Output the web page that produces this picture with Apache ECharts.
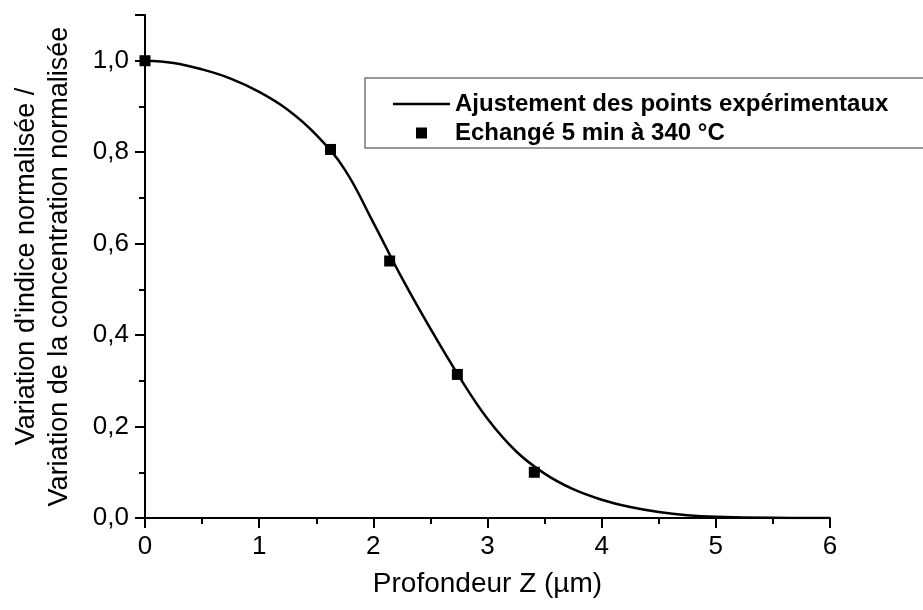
<!DOCTYPE html>
<html lang="fr">

<head>
  <meta charset="UTF-8">
  <title>Profil d'indice</title>
  <script src="https://cdn.jsdelivr.net/npm/echarts@6/dist/echarts.min.js"></script>
  <style>
    body { margin: 0; background: #fff; }
  </style>
</head>

<body>
  <div id="chart" style="width: 923px; height: 610px;"></div>
  <script>
    // courbe d'ajustement
    const fitX = [0, 0.25, 0.5, 0.75, 1.0, 1.25, 1.5, 1.75, 2.0, 2.25, 2.5, 2.75, 3.0, 3.25, 3.5, 3.75, 4.0, 4.25, 4.5, 4.75, 5.0, 5.5, 6.0]
    const fitY = [1.0, 0.995, 0.981, 0.961, 0.932, 0.893, 0.838, 0.762, 0.646, 0.525, 0.414, 0.31, 0.217, 0.146, 0.097, 0.063, 0.04, 0.024, 0.013, 0.006, 0.0025, 0.0003, 0]

    // points expérimentaux
    const expX = [0, 1.625, 2.143, 2.736, 3.41]
    const expY = [1.0, 0.806, 0.562, 0.314, 0.1]

    const chart = echarts.init(document.getElementById('chart'))

    const font = 'Liberation Sans, Arial, sans-serif'
    const comma = v => v.toFixed(1).replace('.', ',')

    const option = {
      animation: false,
      textStyle: { fontFamily: font, color: '#000' },
      grid: { left: 145, right: 93, top: 15, bottom: 92 },
      legend: {
        orient: 'vertical',
        left: 365,
        top: 78,
        padding: [14, 120, 3, 28],
        itemWidth: 57,
        itemHeight: 11,
        itemGap: 5,
        symbolKeepAspect: true,
        borderColor: '#777',
        borderWidth: 1.5,
        borderRadius: 0,
        textStyle: { fontFamily: font, fontSize: 24, fontWeight: 'bold', color: '#000' },
        data: [
          { name: 'Ajustement des points expérimentaux', icon: 'path://M0,0 h100 v4.5 h-100 z' },
          { name: 'Echangé 5 min à 340 °C', icon: 'path://M0,0 h10 v10 h-10 z' }
        ]
      },
      xAxis: {
        type: 'value',
        min: 0,
        max: 6,
        interval: 1,
        name: 'Profondeur Z (µm)',
        nameLocation: 'middle',
        nameGap: 52,
        nameTextStyle: { fontSize: 28, color: '#000' },
        splitLine: { show: false },
        axisLine: { lineStyle: { color: '#000', width: 2 } },
        axisTick: { inside: false, length: 10, lineStyle: { color: '#000', width: 2 } },
        minorTick: { show: true, splitNumber: 2, length: 6, lineStyle: { color: '#000', width: 2 } },
        axisLabel: { fontSize: 26, color: '#000', margin: 16 }
      },
      yAxis: {
        type: 'value',
        min: 0,
        max: 1.1,
        interval: 0.2,
        name: "Variation d'indice normalisée /\nVariation de la concentration normalisée",
        nameLocation: 'middle',
        nameGap: 69,
        nameTextStyle: { fontSize: 27, color: '#000', lineHeight: 33 },
        splitLine: { show: false },
        axisLine: { show: true, lineStyle: { color: '#000', width: 2 } },
        axisTick: { show: true, inside: false, length: 10, lineStyle: { color: '#000', width: 2 } },
        minorTick: { show: true, splitNumber: 2, length: 6, lineStyle: { color: '#000', width: 2 } },
        axisLabel: { fontSize: 26, color: '#000', margin: 16, showMaxLabel: false, formatter: comma }
      },
      series: [
        {
          name: 'Ajustement des points expérimentaux',
          type: 'line',
          smooth: 0.4,
          symbol: 'none',
          data: fitX.map((x, i) => [x, fitY[i]]),
          lineStyle: { color: '#000', width: 2.5 },
          itemStyle: { color: '#000' },
          z: 2
        },
        {
          name: 'Echangé 5 min à 340 °C',
          type: 'scatter',
          symbol: 'rect',
          symbolSize: 11,
          data: expX.map((x, i) => [x, expY[i]]),
          itemStyle: { color: '#000', opacity: 1 },
          z: 3
        }
      ]
    }

    chart.setOption(option)
  </script>
</body>

</html>
